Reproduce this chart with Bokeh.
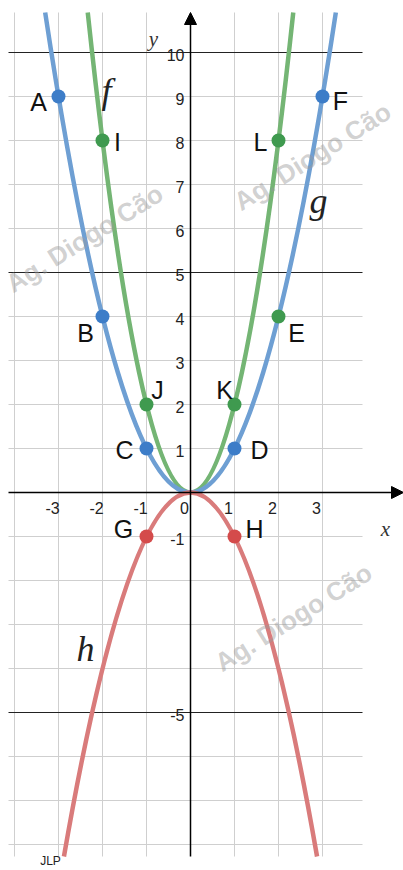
import numpy as np
from bokeh.plotting import figure
from bokeh.models import Range1d, Arrow, NormalHead
from bokeh.core.properties import value
from bokeh.embed import file_html
from bokeh.resources import INLINE

# ---------------- data ----------------
func_names = ["f", "g", "h"]
func_coef = [2, 1, -1]          # y = a * x^2

point_labels = ["A", "B", "C", "D", "E", "F", "G", "H", "I", "J", "K", "L"]
point_x = [-3, -2, -1, 1, 2, 3, -1, 1, -2, -1, 1, 2]
point_y = [9, 4, 1, 1, 4, 9, -1, -1, 8, 2, 2, 8]

x_ticks = [-3, -2, -1, 0, 1, 2, 3]
x_tick_labels = ["-3", "-2", "-1", "0", "1", "2", "3"]
y_ticks = [10, 9, 8, 7, 6, 5, 4, 3, 2, 1, -1, -5]
y_tick_labels = ["10", "9", "8", "7", "6", "5", "4", "3", "2", "1", "-1", "-5"]

grid_x = [-4, -3, -2, -1, 1, 2, 3]
grid_y = [-8, -7, -6, -4, -3, -2, -1, 1, 2, 3, 4, 6, 7, 8, 9]
major_y = [10, 5, -5]

# ---------------- layout / style ----------------
W, H = 403, 870
UNIT = 44.0            # pixels per unit
OX, OY = 190.0, 492.0  # origin in figure pixels


def px_x(px):
    return (px - OX) / UNIT


def px_y(py):
    return (OY - py) / UNIT


X0, X1 = px_x(0), px_x(W)
Y0, Y1 = px_y(H), px_y(0)
GRID_L, GRID_R = px_x(8), px_x(362)
GRID_T, GRID_B = px_y(12), px_y(856)

LINE_COL = {"f": "#74b574", "g": "#6e9fd3", "h": "#d97b7b"}
POINT_COL = ["#3d7dc8", "#3d7dc8", "#3d7dc8", "#3d7dc8", "#3f9a4f", "#3d7dc8",
             "#d44b4b", "#d44b4b", "#3f9a4f", "#3f9a4f", "#3f9a4f", "#3f9a4f"]
LBL_DX = [-20, -17, -22, 25, 18, 18, -23, 20, 15, 11, -10, -18]
LBL_DY = [5, 16, 1, 1, 16, 4, -8, -8, 1, -15, -15, 1]

p = figure(width=W, height=H, x_range=Range1d(X0, X1), y_range=Range1d(Y0, Y1),
           x_axis_type=None, y_axis_type=None, toolbar_location=None,
           output_backend="svg", min_border=0)
p.grid.visible = False
p.outline_line_color = None
p.background_fill_color = "white"

# grid
p.segment(x0=grid_x, y0=[GRID_B] * len(grid_x), x1=grid_x, y1=[GRID_T] * len(grid_x),
          line_color="#cfcfcf", line_width=1)
p.segment(x0=[GRID_L] * len(grid_y), y0=grid_y, x1=[GRID_R] * len(grid_y), y1=grid_y,
          line_color="#cfcfcf", line_width=1)
p.segment(x0=[GRID_L] * len(major_y), y0=major_y, x1=[GRID_R] * len(major_y), y1=major_y,
          line_color="#222222", line_width=1.1)

# axes with arrows
p.add_layout(Arrow(end=NormalHead(size=12, fill_color="black", line_color="black"),
                   x_start=GRID_L, y_start=0, x_end=X1, y_end=0,
                   line_color="black", line_width=1.5))
p.add_layout(Arrow(end=NormalHead(size=12, fill_color="black", line_color="black"),
                   x_start=0, y_start=GRID_B, x_end=0, y_end=GRID_T,
                   line_color="black", line_width=1.5))

# tick labels
p.text(x=x_ticks, y=[0] * len(x_ticks), text=x_tick_labels, x_offset=-6, y_offset=15,
       text_font=value("Liberation Sans"), text_font_size="16px", text_color="#222222",
       text_align="center", text_baseline="middle")
p.text(x=[0] * len(y_ticks), y=y_ticks, text=y_tick_labels, x_offset=-6, y_offset=2,
       text_font=value("Liberation Sans"), text_font_size="16px", text_color="#222222",
       text_align="right", text_baseline="middle")

# axis names
p.text(x=[px_x(153)], y=[px_y(38)], text=["y"], text_font=value("Liberation Serif"),
       text_font_style="italic", text_font_size="21px", text_color="#333333",
       text_align="center", text_baseline="middle")
p.text(x=[px_x(385)], y=[px_y(528)], text=["x"], text_font=value("Liberation Serif"),
       text_font_style="italic", text_font_size="21px", text_color="#333333",
       text_align="center", text_baseline="middle")

# parabolas as exact quadratic Bezier curves
for name, a in zip(func_names, func_coef):
    ylim = GRID_T if a > 0 else GRID_B
    L = np.sqrt(ylim / a)
    p.quadratic(x0=[-L], y0=[a * L * L], x1=[L], y1=[a * L * L], cx=[0], cy=[-a * L * L],
                line_color=LINE_COL[name], line_width=4.5)

# watermarks (over the curves, semi-transparent)
WM_X = [px_x(84), px_x(312), px_x(293)]
WM_Y = [px_y(238), px_y(156), px_y(617)]
p.text(x=WM_X, y=WM_Y, text=["Ag. Diogo Cão"] * 3, angle=32, angle_units="deg",
       text_font=value("Liberation Sans"), text_font_style="bold", text_font_size="26px",
       text_color="#9a9a9a", text_alpha=0.45, text_align="center", text_baseline="middle")

# points
p.scatter(x=point_x, y=point_y, size=14, fill_color=POINT_COL, line_color=None)
p.text(x=point_x, y=point_y, text=point_labels, x_offset=LBL_DX, y_offset=LBL_DY,
       text_font=value("Liberation Sans"), text_font_size="25px", text_color="#111111",
       text_align="center", text_baseline="middle")

# function names
p.text(x=[px_x(106), px_x(318), px_x(85)], y=[px_y(90), px_y(200), px_y(648)],
       text=func_names, text_font=value("Liberation Serif"), text_font_style="italic",
       text_font_size="36px", text_color="#222222", text_align="center", text_baseline="middle")

p.text(x=[px_x(50)], y=[px_y(860)], text=["JLP"], text_font=value("Liberation Sans"),
       text_font_size="12px", text_color="#222222", text_align="center", text_baseline="middle")

open("out.html", "w").write(file_html(p, INLINE))
